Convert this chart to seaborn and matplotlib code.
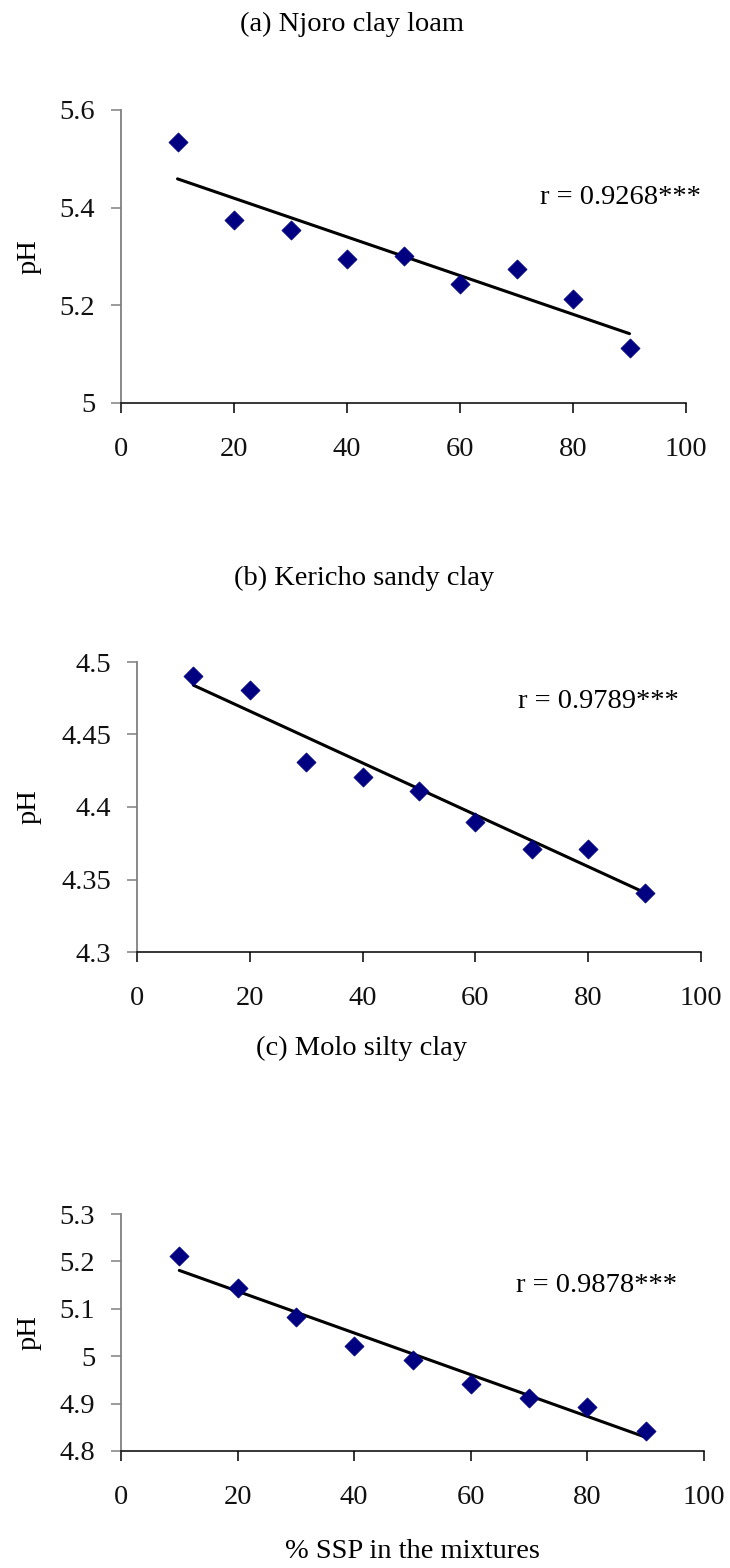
import matplotlib
matplotlib.use("Agg")
import matplotlib.pyplot as plt
import seaborn as sns
import pandas as pd
from matplotlib.ticker import FixedLocator, FuncFormatter

# ---------------- data ----------------
ssp = [10, 20, 30, 40, 50, 60, 70, 80, 90]
ph_a = [5.534, 5.375, 5.355, 5.295, 5.302, 5.244, 5.274, 5.213, 5.113]
ph_b = [4.490, 4.481, 4.431, 4.421, 4.411, 4.390, 4.371, 4.371, 4.341]
ph_c = [5.211, 5.143, 5.083, 5.022, 4.992, 4.942, 4.911, 4.892, 4.842]
fit_x = [10, 90]
fit_a = [5.459, 5.142]
fit_b = [4.484, 4.341]
fit_c = [5.181, 4.829]
titles = ["(a) Njoro clay loam", "(b) Kericho sandy clay", "(c) Molo silty clay"]
r_labels = ["r = 0.9268***", "r = 0.9789***", "r = 0.9878***"]
yticks_a = [5.0, 5.2, 5.4, 5.6]
yticks_b = [4.3, 4.35, 4.4, 4.45, 4.5]
yticks_c = [4.8, 4.9, 5.0, 5.1, 5.2, 5.3]
xticks = [0, 20, 40, 60, 80, 100]
xlabel = "% SSP in the mixtures"
ylabel = "pH"

# ---------------- style ----------------
sns.set_theme(style="white")
plt.rcParams["font.family"] = ["Liberation Serif", "DejaVu Serif"]
plt.rcParams["text.color"] = "black"

W, H = 730, 1568
fig = plt.figure(figsize=(W / 100, H / 100), dpi=100)
fig.patch.set_facecolor("white")


def fx(x):
    return x / W


def fy(y):
    return 1 - y / H


# axes boxes in pixels: left, right, top, bottom
boxes = [
    (121, 686, 110, 403),
    (137, 701, 662, 952),
    (121, 704, 1214, 1451),
]
title_pos = [(352, 24), (364, 578), (361, 1048)]
r_pos = [(540, 198), (518, 701), (516, 1285)]

series = [ph_a, ph_b, ph_c]
fits = [fit_a, fit_b, fit_c]
yticks_all = [yticks_a, yticks_b, yticks_c]

FS = 20.5
for i in range(3):
    l, r, t, b = boxes[i]
    ax = fig.add_axes([fx(l), fy(b), (r - l) / W, (b - t) / H])
    df = pd.DataFrame({"ssp": ssp, "ph": series[i]})
    dfit = pd.DataFrame({"ssp": fit_x, "ph": fits[i]})
    sns.lineplot(data=dfit, x="ssp", y="ph", ax=ax, color="black", lw=2.2, zorder=2)
    sns.scatterplot(data=df, x="ssp", y="ph", ax=ax, marker="D", s=95,
                    color="#000080", edgecolor="#000080", linewidth=0.5, zorder=3)
    yt = yticks_all[i]
    ax.set_xlim(0, 100)
    ax.set_ylim(yt[0], yt[-1])
    ax.xaxis.set_major_locator(FixedLocator(xticks))
    ax.yaxis.set_major_locator(FixedLocator(yt))
    ax.yaxis.set_major_formatter(FuncFormatter(lambda v, p: f"{v:g}"))
    ax.xaxis.set_major_formatter(FuncFormatter(lambda v, p: f"{v:g}"))
    ax.set_xlabel("")
    ax.set_ylabel("")
    for s in ["top", "right"]:
        ax.spines[s].set_visible(False)
    ax.spines["left"].set_color("#808080")
    ax.spines["left"].set_linewidth(1.3)
    ax.spines["bottom"].set_color("black")
    ax.spines["bottom"].set_linewidth(1.1)
    ax.spines["left"].set_zorder(1)
    ax.tick_params(axis="y", direction="out", length=7.5, width=1.1,
                   color="#808080", labelsize=FS, labelcolor="#111111", pad=11, left=True)
    ax.tick_params(axis="x", direction="out", length=7.5, width=1.1,
                   color="black", labelsize=FS, labelcolor="#111111", pad=17, bottom=True)
    ax.set_facecolor("white")
    ax.patch.set_alpha(0)

    # titles, r labels, y labels
    tx, ty = title_pos[i]
    fig.text(fx(tx), fy(ty), titles[i], ha="center", va="center", fontsize=FS)
    rx, ry = r_pos[i]
    fig.text(fx(rx), fy(ry), r_labels[i], ha="left", va="center", fontsize=FS)
    fig.text(fx(29), fy((t + b) / 2), ylabel, ha="center", va="center",
             rotation=90, fontsize=FS)

fig.text(fx(412), fy(1552), xlabel, ha="center", va="center", fontsize=FS)

fig.savefig("out.png", dpi=100, facecolor="white")
